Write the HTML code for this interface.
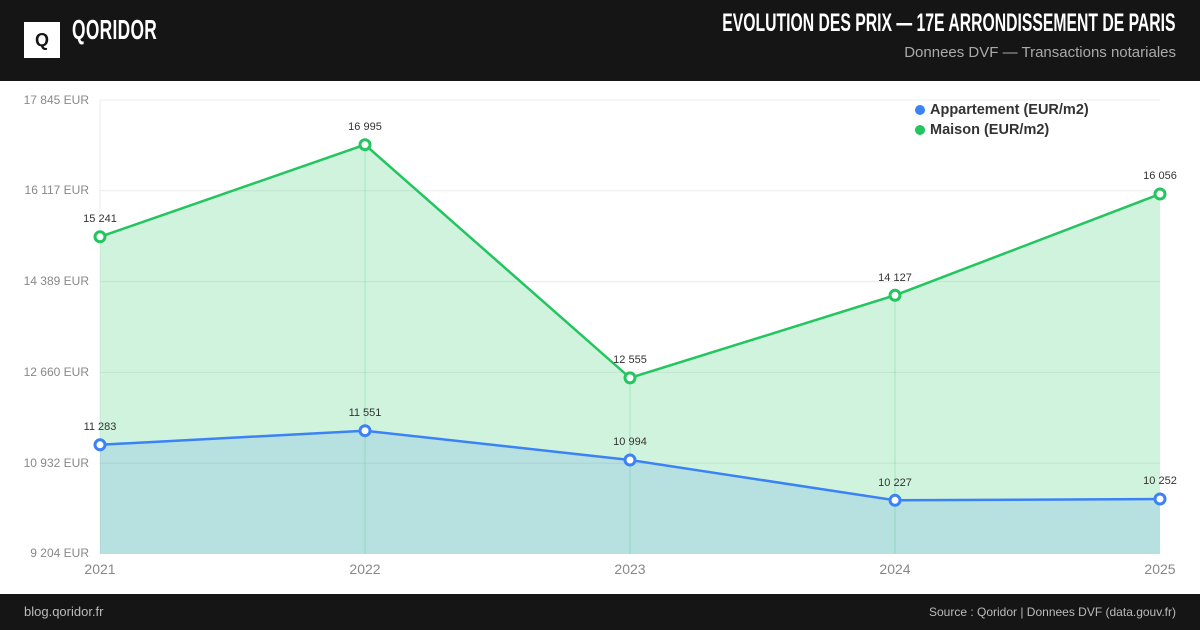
<!DOCTYPE html>
<html><head><meta charset="utf-8"><style>
body{margin:0;width:1200px;height:630px;overflow:hidden;background:#fff;font-family:"Liberation Sans",sans-serif;position:relative}
.hd{position:absolute;left:0;top:0;width:1200px;height:81px;background:#151515}
.ft{position:absolute;left:0;top:594px;width:1200px;height:36px;background:#151515}
</style></head><body>
<div class="hd">
<div style="position:absolute;left:24px;top:22px;width:36px;height:36px;background:#fff"></div>
<div style="position:absolute;left:24px;top:22px;width:36px;height:36px;line-height:36px;text-align:center;font-weight:bold;font-size:18px;color:#151515">Q</div>
<div style="position:absolute;left:72px;top:14px;font-size:28px;font-weight:bold;color:#fff;transform:scaleX(0.62);transform-origin:left;letter-spacing:0.5px">QORIDOR</div>
<div style="position:absolute;right:24px;top:9px;font-size:25px;font-weight:bold;color:#fff;transform:scaleX(0.63);transform-origin:right;white-space:nowrap">EVOLUTION DES PRIX — 17E ARRONDISSEMENT DE PARIS</div>
<div style="position:absolute;right:24px;top:44px;font-size:15px;color:#aaa">Donnees DVF — Transactions notariales</div>
</div>
<svg style="position:absolute;left:0;top:0" width="1200" height="630">
<g stroke="#ececec" stroke-width="1">
<line x1="100" y1="100" x2="1160" y2="100"/><line x1="100" y1="190.8" x2="1160" y2="190.8"/><line x1="100" y1="281.6" x2="1160" y2="281.6"/><line x1="100" y1="372.4" x2="1160" y2="372.4"/><line x1="100" y1="463.2" x2="1160" y2="463.2"/>
<line x1="100" y1="100" x2="100" y2="554"/>
</g>
<polygon points="100,236.8 365,144.7 630,377.9 895,295.3 1160,194 1160,554 100,554" fill="rgba(34,197,94,0.21)"/>
<polygon points="100,444.8 365,430.7 630,460 895,500.3 1160,499 1160,554 100,554" fill="rgba(59,130,246,0.17)"/>
<g stroke="rgba(34,197,94,0.25)" stroke-width="1"><line x1="365" y1="144" x2="365" y2="554"/><line x1="630" y1="378" x2="630" y2="554"/><line x1="895" y1="295" x2="895" y2="554"/></g>
<polyline points="100,236.8 365,144.7 630,377.9 895,295.3 1160,194" fill="none" stroke="#22c55e" stroke-width="2.5"/>
<polyline points="100,444.8 365,430.7 630,460 895,500.3 1160,499" fill="none" stroke="#3b82f6" stroke-width="2.5"/>
<g fill="#fff" stroke="#22c55e" stroke-width="3">
<circle cx="100" cy="236.8" r="5"/><circle cx="365" cy="144.7" r="5"/><circle cx="630" cy="377.9" r="5"/><circle cx="895" cy="295.3" r="5"/><circle cx="1160" cy="194" r="5"/></g>
<g fill="#fff" stroke="#3b82f6" stroke-width="3">
<circle cx="100" cy="444.8" r="5"/><circle cx="365" cy="430.7" r="5"/><circle cx="630" cy="460" r="5"/><circle cx="895" cy="500.3" r="5"/><circle cx="1160" cy="499" r="5"/></g>
<g font-family="Liberation Sans,sans-serif" font-size="11" fill="#333" text-anchor="middle">
<text x="100" y="222">15 241</text><text x="365" y="130">16 995</text><text x="630" y="363">12 555</text><text x="895" y="281">14 127</text><text x="1160" y="179">16 056</text>
<text x="100" y="430">11 283</text><text x="365" y="416">11 551</text><text x="630" y="445">10 994</text><text x="895" y="486">10 227</text><text x="1160" y="484">10 252</text>
</g>
<g font-family="Liberation Sans,sans-serif" font-size="12" fill="#888" text-anchor="end">
<text x="89" y="104">17 845 EUR</text><text x="89" y="194">16 117 EUR</text><text x="89" y="285">14 389 EUR</text><text x="89" y="376">12 660 EUR</text><text x="89" y="467">10 932 EUR</text><text x="89" y="557">9 204 EUR</text>
</g>
<g font-family="Liberation Sans,sans-serif" font-size="14" fill="#888" text-anchor="middle">
<text x="100" y="574">2021</text><text x="365" y="574">2022</text><text x="630" y="574">2023</text><text x="895" y="574">2024</text><text x="1160" y="574">2025</text>
</g>
<circle cx="920" cy="110" r="5" fill="#3b82f6"/><circle cx="920" cy="130" r="5" fill="#22c55e"/>
<g font-family="Liberation Sans,sans-serif" font-size="14.5" font-weight="bold" fill="#333">
<text x="930" y="114">Appartement (EUR/m2)</text><text x="930" y="134">Maison (EUR/m2)</text></g>
</svg>
<div class="ft">
<div style="position:absolute;left:24px;top:10px;font-size:13px;color:#bbb">blog.qoridor.fr</div>
<div style="position:absolute;right:24px;top:11px;font-size:12px;color:#bbb">Source : Qoridor | Donnees DVF (data.gouv.fr)</div>
</div>
</body></html>
